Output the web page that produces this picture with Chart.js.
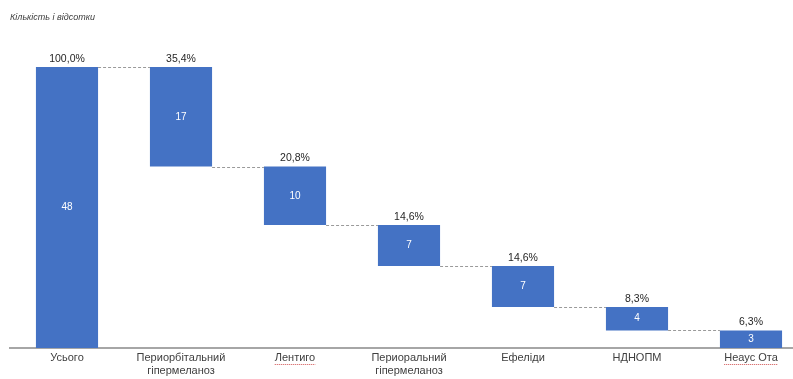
<!DOCTYPE html>
<html><head><meta charset="utf-8">
<script src="https://cdn.jsdelivr.net/npm/chart.js@4"></script>
<style>html,body{margin:0;padding:0;background:#fff;overflow:hidden;width:793px;height:379px}</style>
</head><body>
<canvas id="c" width="808" height="379"></canvas>
<script>
const categories = [['Усього'], ['Периорбітальний','гіпермеланоз'], ['Лентиго'], ['Периоральний','гіпермеланоз'], ['Ефеліди'], ['НДНОПМ'], ['Неаус Ота']];
const counts = [48, 17, 10, 7, 7, 4, 3];
const percentLabels = ['100,0%', '35,4%', '20,8%', '14,6%', '14,6%', '8,3%', '6,3%'];
const titleText = 'Кількість і відсотки';

// floating ranges for waterfall
const ranges = [];
let level = counts[0];
ranges.push([0, counts[0]]);
for (let i = 1; i < counts.length; i++) {
  ranges.push([level - counts[i], level]);
  level -= counts[i];
}

const BLUE = '#4472C4';
const FONT = '"Liberation Sans", Arial, sans-serif';

const wfPlugin = {
  id: 'wf',
  afterDatasetsDraw(chart) {
    const ctx = chart.ctx;
    const meta = chart.getDatasetMeta(0);
    const y = chart.scales.y;
    ctx.save();
    // connectors
    ctx.strokeStyle = '#9a9a9a';
    ctx.lineWidth = 1;
    ctx.setLineDash([3, 2]);
    for (let i = 0; i < meta.data.length - 1; i++) {
      const a = meta.data[i], b = meta.data[i + 1];
      const yy = Math.round(y.getPixelForValue(ranges[i + 1][1])) + 0.5;
      ctx.beginPath();
      ctx.moveTo(a.x + a.width / 2, yy);
      ctx.lineTo(b.x - b.width / 2, yy);
      ctx.stroke();
    }
    ctx.setLineDash([]);
    // labels
    ctx.textAlign = 'center';
    ctx.textBaseline = 'middle';
    meta.data.forEach((bar, i) => {
      const top = y.getPixelForValue(ranges[i][1]);
      const bot = y.getPixelForValue(ranges[i][0]);
      ctx.fillStyle = '#262626';
      ctx.font = '10.5px ' + FONT;
      ctx.fillText(percentLabels[i], bar.x, top - 8);
      ctx.fillStyle = '#ffffff';
      ctx.font = '10px ' + FONT;
      ctx.fillText(String(counts[i]), bar.x, (top + bot) / 2);
    });
    // title
    ctx.textAlign = 'left';
    ctx.fillStyle = '#404040';
    ctx.font = 'italic 9px ' + FONT;
    ctx.fillText(titleText, 10, 17);
    // spell-check squiggles
    const x = chart.scales.x;
    ctx.strokeStyle = '#d05050';
    ctx.lineWidth = 1;
    ctx.setLineDash([1, 1]);
    [2, 6].forEach(i => {
      ctx.font = '11px ' + FONT;
      const w = ctx.measureText(categories[i][0]).width;
      const cx = x.getPixelForValue(i);
      ctx.beginPath();
      ctx.moveTo(cx - w / 2, 364.5);
      ctx.lineTo(cx + w / 2, 364.5);
      ctx.stroke();
    });
    ctx.restore();
  }
};

new Chart(document.getElementById('c'), {
  type: 'bar',
  data: {
    labels: categories,
    datasets: [{
      data: ranges,
      backgroundColor: BLUE,
      borderWidth: 0,
      barPercentage: 1,
      categoryPercentage: 0.545
    }]
  },
  options: {
    responsive: false,
    devicePixelRatio: 1,
    animation: false,
    layout: { padding: { top: 67, left: 10, right: 0, bottom: 0 } },
    plugins: { legend: { display: false }, tooltip: { enabled: false }, title: { display: false } },
    scales: {
      y: { display: false, min: 0, max: 48 },
      x: {
        grid: { display: false, drawTicks: false },
        border: { color: '#a6a6a6', width: 2 },
        ticks: {
          color: '#404040',
          font: { size: 11, family: FONT, lineHeight: 1.15 },
          padding: 4,
          maxRotation: 0,
          autoSkip: false
        },
        afterFit(scale) { scale.height = 31; }
      }
    }
  },
  plugins: [wfPlugin]
});
</script>
</body></html>
